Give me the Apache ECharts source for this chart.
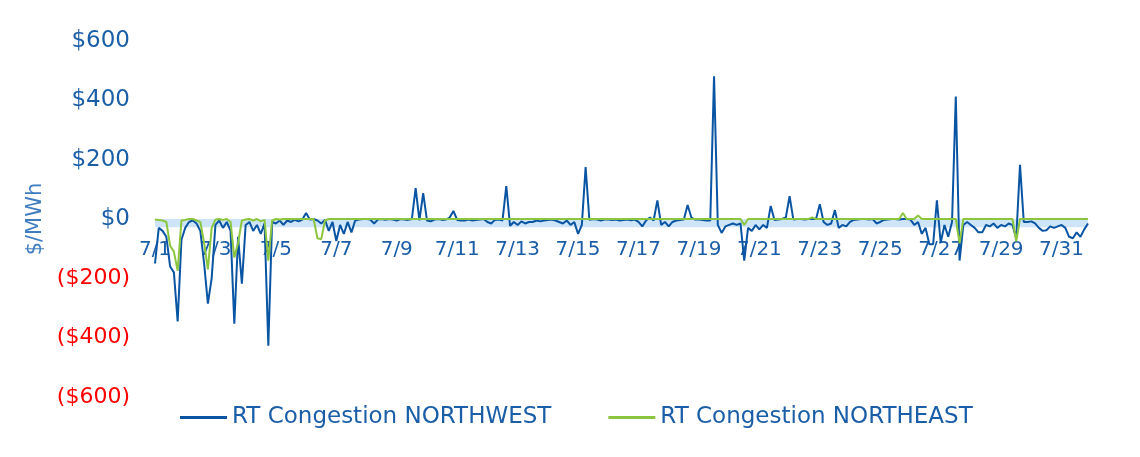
<!DOCTYPE html>
<html><head><meta charset="utf-8">
<script src="https://cdn.jsdelivr.net/npm/echarts@6/dist/echarts.min.js"></script>
<style>html,body{margin:0;padding:0;background:#fff}#c{width:1140px;height:457px}</style>
</head><body><div id="c"></div>
<script>
const dayLabels = ['7/1','7/2','7/3','7/4','7/5','7/6','7/7','7/8','7/9','7/10','7/11','7/12','7/13','7/14','7/15','7/16',
  '7/17','7/18','7/19','7/20','7/21','7/22','7/23','7/24','7/25','7/26','7/27','7/28','7/29','7/30','7/31'];
const hourLabels = ['00','03','06','09','12','15','18','21'];

const northwest = [
  -150, -30, -40, -60, -160, -180, -345, -70,
  -30, -10, -5, -15, -40, -150, -285, -200,
  -20, -5, -30, -10, -40, -353, -60, -218,
  -20, -10, -40, -20, -50, -15, -427, -10,
  -15, -5, -20, -5, -10, -3, -8, -2,
  20, -2, 0, -5, -15, -3, -40, -10,
  -74, -20, -50, -10, -45, -5, -2, 0,
  0, -2, -15, -2, 0, -3, 0, -2,
  -5, 0, -2, -3, 0, 104, -5, 87,
  -5, -8, -2, 0, -3, -2, 5, 27,
  -3, -5, -5, -2, -5, -3, -2, 0,
  -10, -15, -3, -2, -5, 111, -23, -10,
  -20, -8, -15, -10, -10, -5, -8, -5,
  -3, -2, -5, -10, -15, -5, -20, -10,
  -50, -20, 175, -3, 0, -2, -5, -2,
  -2, -3, -2, -5, -3, -2, -4, -2,
  -10, -25, -5, 5, -5, 63, -20, -10,
  -25, -10, -5, -3, -2, 47, 5, -2,
  -2, -3, -5, -5, 481, -20, -47, -25,
  -20, -15, -20, -15, -140, -30, -40, -20,
  -35, -20, -30, 44, -3, -2, 0, 5,
  77, -2, 0, 0, -2, 0, 0, 0,
  50, -10, -20, -15, 30, -30, -20, -25,
  -10, -3, -2, 0, 0, -2, 0, -15,
  -10, -3, -2, 0, 0, -2, 0, 0,
  -2, -20, -10, -50, -30, -85, -85, 63,
  -80, -20, -60, -10, 413, -140, -20, -10,
  -20, -30, -45, -45, -20, -25, -15, -30,
  -20, -25, -15, -20, -65, 183, -10, -10,
  -8, -15, -30, -40, -38, -25, -30, -25,
  -20, -30, -60, -65, -45, -60, -35, -15
];

const northeast = [
  -2, -3, -5, -10, -90, -110, -175, -5,
  -3, 0, 0, -5, -10, -80, -170, -30,
  -2, 0, -3, 0, -10, -130, -80, -5,
  -2, 0, -5, 0, -8, -3, -140, -5,
  0, -2, 0, 0, 0, 0, 0, 0,
  0, 0, 0, -65, -68, -5, 0, 0,
  0, 0, 0, 0, 0, 0, 0, 0,
  0, 0, 0, 0, 0, 0, 0, 0,
  0, 0, 0, 0, 0, 0, 0, 0,
  0, 0, 0, 0, 0, 0, 0, 0,
  0, 0, 0, 0, 0, 0, 0, 0,
  0, 0, 0, 0, 0, 0, 0, 0,
  0, 0, 0, 0, 0, 0, 0, 0,
  0, 0, 0, 0, 0, 0, 0, 0,
  0, 0, 0, 0, 0, 0, 0, 0,
  0, 0, 0, 0, 0, 0, 0, 0,
  0, 0, 0, 0, 0, 0, 0, 0,
  0, 0, 0, 0, 0, 0, 0, 0,
  0, 0, 0, 0, 0, 0, 0, 0,
  0, 0, 0, 0, -20, 0, 0, 0,
  0, 0, 0, 0, 0, 0, 0, 0,
  0, 0, 0, 0, 0, 0, 5, 0,
  0, 0, 0, 0, 0, 0, 0, 0,
  0, 0, 0, 0, 0, 0, 0, 0,
  0, 0, 0, 0, 0, 0, 20, 0,
  0, 0, 12, 0, 0, 0, 0, 0,
  0, 0, 0, 0, 0, -82, 0, 0,
  0, 0, 0, 0, 0, 0, 0, 0,
  0, 0, 0, 0, -75, 0, 0, 0,
  0, 0, 0, 0, 0, 0, 0, 0,
  0, 0, 0, 0, 0, 0, 0, 0
];

const categories = [];
dayLabels.forEach(d => hourLabels.forEach(h => categories.push(d + ' ' + h)));

const FONT = 'DejaVu Sans';
const BLUE_TXT = '#1b5ea8';
const GRID_TOP = 41, GRID_H = 356;
const chart = echarts.init(document.getElementById('c'), null, {renderer: 'canvas'});
chart.setOption({
  animation: false,
  textStyle: {fontFamily: FONT},
  grid: [
    {left: 155, right: 52, top: GRID_TOP, height: GRID_H, containLabel: false},
    {left: 155, right: 52, top: GRID_TOP, height: GRID_H / 2, containLabel: false}
  ],
  legend: {
    left: 180, top: 406, padding: 0, itemGap: 57, itemWidth: 47, itemHeight: 3, icon: 'rect',
    textStyle: {fontFamily: FONT, fontSize: 23, color: BLUE_TXT}
  },
  xAxis: [
    {
      type: 'category', gridIndex: 0, data: categories, boundaryGap: false,
      axisLine: {show: false}, axisTick: {show: false}, axisLabel: {show: false}, splitLine: {show: false}
    },
    {
      type: 'category', gridIndex: 1, data: categories, boundaryGap: false, position: 'bottom',
      axisLine: {show: false}, axisTick: {show: false}, splitLine: {show: false},
      axisLabel: {
        interval: (idx) => idx % 16 === 0,
        formatter: (v) => v.split(' ')[0],
        margin: 21, fontSize: 20, color: BLUE_TXT, fontFamily: FONT
      }
    }
  ],
  yAxis: [
    {
      type: 'value', gridIndex: 0, min: -600, max: 600, interval: 200,
      name: '$/MWh', nameLocation: 'middle', nameGap: 102, nameRotate: 90,
      nameTextStyle: {fontFamily: FONT, fontSize: 21, color: '#3f7cc0'},
      axisLine: {show: false}, axisTick: {show: false}, splitLine: {show: false},
      axisLabel: {
        margin: 25, fontFamily: FONT, fontSize: 23,
        formatter: (v) => v >= 0 ? '{p|$' + v + '}' : '{n|($' + (-v) + ')}',
        rich: {
          p: {color: BLUE_TXT, fontSize: 23, fontFamily: FONT},
          n: {color: '#ff0000', fontSize: 22, fontFamily: FONT}
        }
      }
    },
    {type: 'value', gridIndex: 1, min: 0, max: 1, show: false}
  ],
  series: [
    {
      name: 'RT Congestion NORTHWEST', type: 'line', data: northwest, xAxisIndex: 0, yAxisIndex: 0,
      symbol: 'none', lineStyle: {width: 2, color: '#0a55a3'}, itemStyle: {color: '#0a55a3'},
      markArea: {silent: true, itemStyle: {color: '#cde4f9'}, data: [[{yAxis: 0}, {yAxis: -28}]]},
      z: 2
    },
    {
      name: 'RT Congestion NORTHEAST', type: 'line', data: northeast, xAxisIndex: 0, yAxisIndex: 0,
      symbol: 'none', lineStyle: {width: 2, color: '#8cc63e'}, itemStyle: {color: '#8cc63e'},
      z: 3
    }
  ]
});
</script></body></html>
